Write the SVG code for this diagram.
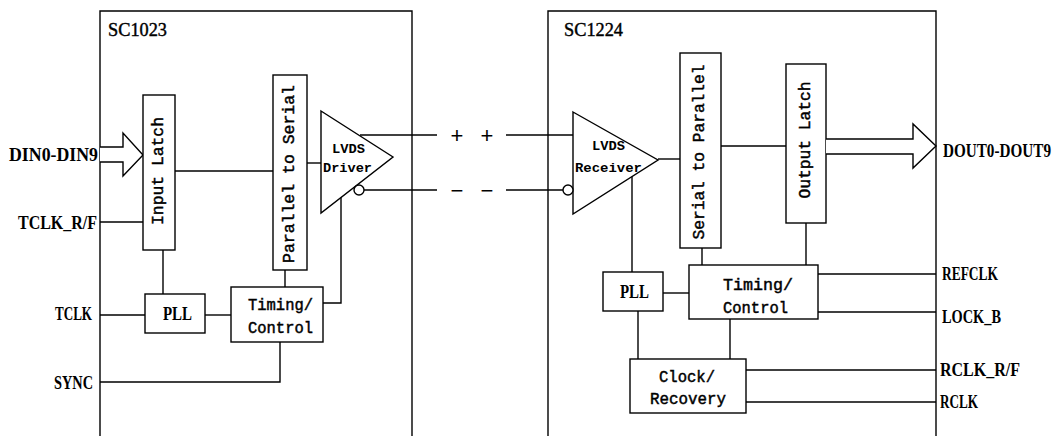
<svg xmlns="http://www.w3.org/2000/svg" width="1057" height="436" viewBox="0 0 1057 436">
<style>
.ln{fill:none;stroke:#000;stroke-width:1.4}
.bx{fill:#fff;stroke:#000;stroke-width:1.4}
.lb{font-family:"Liberation Serif",serif;font-weight:bold;font-size:19px;fill:#000}
.ttl{font-family:"Liberation Serif",serif;font-size:18px;fill:#000;stroke:#000;stroke-width:0.4}
.mt{font-family:"Liberation Mono",monospace;font-size:16px;fill:#000;stroke:#000;stroke-width:0.45}
.sm{font-family:"Liberation Mono",monospace;font-size:13px;font-weight:bold;fill:#000}
.pm{font-family:"Liberation Sans",sans-serif;font-size:22px;fill:#000}
</style>
<rect width="1057" height="436" fill="#fff"/>
<g id="chip1">
<path class="ln" d="M100,436V11H412V436"/>
<text class="ttl" x="108" y="36" textLength="59" lengthAdjust="spacingAndGlyphs">SC1023</text>
</g>
<g id="chip2">
<path class="ln" d="M548,436V11H936V436"/>
<text class="ttl" x="564" y="36" textLength="59" lengthAdjust="spacingAndGlyphs">SC1224</text>
</g>
<g id="connectors">
<path class="ln" d="M175,171H273"/>
<path class="ln" d="M307,163H321"/>
<path class="ln" d="M100,222H143"/>
<path class="ln" d="M163,250V294"/>
<path class="ln" d="M100,315H145"/>
<path class="ln" d="M205,315H231"/>
<path class="ln" d="M285,270V287"/>
<path class="ln" d="M341,197V303H323"/>
<path class="ln" d="M100,382H280V342"/>
<path class="ln" d="M360,135H437"/>
<path class="ln" d="M506,135H573"/>
<path class="ln" d="M364,190H437"/>
<path class="ln" d="M506,190H563"/>
<path class="ln" d="M658,159H680"/>
<path class="ln" d="M721,146H786"/>
<path class="ln" d="M632,176V272"/>
<path class="ln" d="M702,248V265"/>
<path class="ln" d="M806,223V265"/>
<path class="ln" d="M663,293H689"/>
<path class="ln" d="M638,311V359"/>
<path class="ln" d="M730,319V359"/>
<path class="ln" d="M818,274H936"/>
<path class="ln" d="M818,312H936"/>
<path class="ln" d="M746,370H936"/>
<path class="ln" d="M746,402H936"/>
<text class="pm" x="457" y="143" text-anchor="middle">+</text>
<text class="pm" x="487" y="143" text-anchor="middle">+</text>
<text class="pm" x="457" y="198" text-anchor="middle">−</text>
<text class="pm" x="487" y="198" text-anchor="middle">−</text>
</g>
<g id="din">
<path class="bx" d="M100,147H123V133L143,155L123,176V162H100"/>
<text class="lb" x="9" y="161" textLength="89" lengthAdjust="spacingAndGlyphs">DIN0-DIN9</text>
</g>
<g id="pins-left">
<text class="lb" x="18" y="229" textLength="79" lengthAdjust="spacingAndGlyphs">TCLK_R/F</text>
<text class="lb" x="55" y="320" textLength="37" lengthAdjust="spacingAndGlyphs">TCLK</text>
<text class="lb" x="54" y="389" textLength="39" lengthAdjust="spacingAndGlyphs">SYNC</text>
</g>
<g id="input-latch">
<rect class="bx" x="143" y="95" width="32" height="155"/>
<text class="mt" transform="translate(159,171) rotate(-90)" text-anchor="middle" dominant-baseline="central" textLength="108" lengthAdjust="spacingAndGlyphs">Input Latch</text>
</g>
<g id="p2s">
<rect class="bx" x="273" y="75" width="34" height="195"/>
<text class="mt" transform="translate(290,174) rotate(-90)" text-anchor="middle" dominant-baseline="central" textLength="178" lengthAdjust="spacingAndGlyphs">Parallel to Serial</text>
</g>
<g id="lvds-driver">
<path class="bx" d="M321,111L393,157L321,213Z"/>
<circle class="bx" cx="359" cy="190" r="5"/>
<text class="sm" x="332" y="153" textLength="33" lengthAdjust="spacingAndGlyphs">LVDS</text>
<text class="sm" x="323" y="172" textLength="49" lengthAdjust="spacingAndGlyphs">Driver</text>
</g>
<g id="pll1">
<rect class="bx" x="145" y="294" width="60" height="39"/>
<text class="lb" x="163" y="320" textLength="29" lengthAdjust="spacingAndGlyphs">PLL</text>
</g>
<g id="timing1">
<rect class="bx" x="231" y="287" width="92" height="55"/>
<text class="mt" x="248" y="310" textLength="65" lengthAdjust="spacingAndGlyphs">Timing/</text>
<text class="mt" x="248" y="333" textLength="65" lengthAdjust="spacingAndGlyphs">Control</text>
</g>
<g id="lvds-receiver">
<path class="bx" d="M573,112L658,160L573,214Z"/>
<circle class="bx" cx="568" cy="190" r="5"/>
<text class="sm" x="592" y="150" textLength="33" lengthAdjust="spacingAndGlyphs">LVDS</text>
<text class="sm" x="575" y="172" textLength="67" lengthAdjust="spacingAndGlyphs">Receiver</text>
</g>
<g id="s2p">
<rect class="bx" x="680" y="53" width="41" height="195"/>
<text class="mt" transform="translate(700,152) rotate(-90)" text-anchor="middle" dominant-baseline="central" textLength="175" lengthAdjust="spacingAndGlyphs">Serial to Parallel</text>
</g>
<g id="output-latch">
<rect class="bx" x="786" y="64" width="40" height="159"/>
<text class="mt" transform="translate(806,140) rotate(-90)" text-anchor="middle" dominant-baseline="central" textLength="117" lengthAdjust="spacingAndGlyphs">Output Latch</text>
</g>
<g id="dout">
<path class="bx" d="M826,139H913V124L936,146L913,168V154H826"/>
<text class="lb" transform="translate(943,157) scale(0.8,1)" x="0" y="0">DOUT0-DOUT9</text>
</g>
<g id="pll2">
<rect class="bx" x="603" y="272" width="60" height="39"/>
<text class="lb" x="620" y="298" textLength="29" lengthAdjust="spacingAndGlyphs">PLL</text>
</g>
<g id="timing2">
<rect class="bx" x="689" y="265" width="129" height="54"/>
<text class="mt" x="723" y="290" textLength="70" lengthAdjust="spacingAndGlyphs">Timing/</text>
<text class="mt" x="723" y="313" textLength="65" lengthAdjust="spacingAndGlyphs">Control</text>
</g>
<g id="clock-recovery">
<rect class="bx" x="630" y="359" width="116" height="54"/>
<text class="mt" x="659" y="382" textLength="56" lengthAdjust="spacingAndGlyphs">Clock/</text>
<text class="mt" x="650" y="404" textLength="76" lengthAdjust="spacingAndGlyphs">Recovery</text>
</g>
<g id="pins-right">
<text class="lb" x="942" y="280" textLength="56" lengthAdjust="spacingAndGlyphs">REFCLK</text>
<text class="lb" x="942" y="323" textLength="59" lengthAdjust="spacingAndGlyphs">LOCK_B</text>
<text class="lb" x="940" y="376" textLength="80" lengthAdjust="spacingAndGlyphs">RCLK_R/F</text>
<text class="lb" x="940" y="408" textLength="38" lengthAdjust="spacingAndGlyphs">RCLK</text>
</g>
</svg>
